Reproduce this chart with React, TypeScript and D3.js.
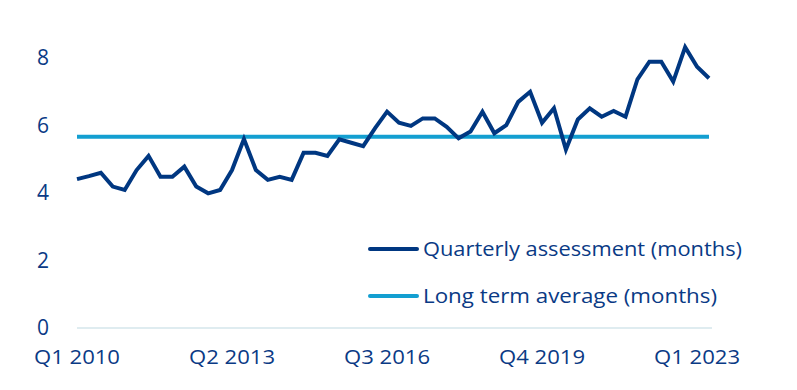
import React from "react";
import * as d3 from "d3";

const quarters: string[] = (() => {
  const out: string[] = [];
  for (let y = 2010; y <= 2023; y++) for (let q = 1; q <= 4; q++) out.push(`Q${q} ${y}`);
  return out.slice(0, 54);
})();

const assessment: number[] = [
  4.41, 4.5, 4.6, 4.19, 4.09, 4.68, 5.1, 4.48, 4.48, 4.78,
  4.19, 3.99, 4.09, 4.68, 5.6, 4.68, 4.39, 4.48, 4.39, 5.19,
  5.19, 5.1, 5.59, 5.49, 5.39, 5.92, 6.41, 6.08, 5.99, 6.21,
  6.21, 5.96, 5.62, 5.82, 6.41, 5.77, 6.01, 6.7, 7.0, 6.08,
  6.51, 5.29, 6.18, 6.51, 6.26, 6.43, 6.26, 7.37, 7.89, 7.89,
  7.3, 8.32, 7.74, 7.4,
];

const longTermAverage = 5.67;

const xTickLabels: string[] = ["Q1 2010", "Q2 2013", "Q3 2016", "Q4 2019", "Q1 2023"];
const yTicks: number[] = [0, 2, 4, 6, 8];

const legendItems: { label: string; color: string }[] = [
  { label: "Quarterly assessment (months)", color: "#003781" },
  { label: "Long term average (months)", color: "#139fd1" },
];

const W = 797;
const H = 390;
const FONT = "'Open Sans', sans-serif";
const TEXT = "#0a3a85";

export default function App() {
  const x = d3.scaleLinear().domain([0, quarters.length - 1]).range([77, 709]);
  const y = d3.scaleLinear().domain([0, 8]).range([328, 58]);
  const line = d3
    .line<number>()
    .x((_, i) => x(i))
    .y((d) => y(d));

  return (
    <svg
      width={W}
      height={H}
      style={{ position: "absolute", left: 0, top: 0, background: "#fff" }}
      fontFamily={FONT}
    >
      <line x1={x(0)} x2={712} y1={y(0)} y2={y(0)} stroke="#dfecf0" strokeWidth={2} />
      {yTicks.map((t) => (
        <text key={t} x={49} y={y(t)} dy="0.35em" textAnchor="end" fontSize={21} fill={TEXT}>
          {t}
        </text>
      ))}
      {xTickLabels.map((l) => (
        <text key={l} x={x(quarters.indexOf(l))} y={357} dy="0.35em" textAnchor="middle" fontSize={20} fill={TEXT} textLength={86} lengthAdjust="spacingAndGlyphs">
          {l}
        </text>
      ))}
      <line
        x1={x(0)}
        x2={x(quarters.length - 1)}
        y1={y(longTermAverage)}
        y2={y(longTermAverage)}
        stroke={legendItems[1].color}
        strokeWidth={4}
      />
      <path
        d={line(assessment) || ""}
        fill="none"
        stroke={legendItems[0].color}
        strokeWidth={4}
        strokeLinejoin="miter"
      />
      {legendItems.map((it, i) => (
        <g key={it.label} transform={`translate(370, ${249 + i * 47})`}>
          <line x1={0} x2={47} y1={0} y2={0} stroke={it.color} strokeWidth={4} strokeLinecap="round" />
          <text x={53} y={0} dy="0.35em" fontSize={20} fill={TEXT} textLength={i === 0 ? 319 : 294} lengthAdjust="spacingAndGlyphs">
            {it.label}
          </text>
        </g>
      ))}
    </svg>
  );
}
